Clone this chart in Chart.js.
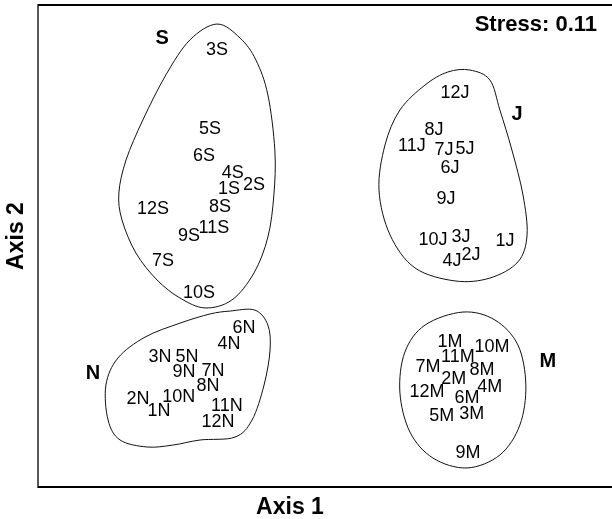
<!DOCTYPE html>
<html>
<head>
<meta charset="utf-8">
<script src="https://cdn.jsdelivr.net/npm/chart.js@4.4.1/dist/chart.umd.min.js"></script>
<style>
  html, body { margin: 0; padding: 0; background: #fff; overflow: hidden; }
  #wrap { width: 612px; height: 519px; }
  canvas { display: block; }
</style>
</head>
<body>
<div id="wrap"><canvas id="nmds" width="612" height="519"></canvas></div>
<script>
// NMDS ordination scores (Axis 1, Axis 2) for each sample
const sNames = ['1S','2S','3S','4S','5S','6S','7S','8S','9S','10S','11S','12S'];
const sAxis1 = [-0.404, -0.300, -0.454, -0.388, -0.483, -0.508, -0.679, -0.442, -0.571, -0.529, -0.467, -0.721];
const sAxis2 = [ 0.237,  0.253,  0.813,  0.303,  0.485,  0.373, -0.062,  0.162,  0.041, -0.195,  0.075,  0.154];

const jNames = ['1J','2J','3J','4J','5J','6J','7J','8J','9J','10J','11J','12J'];
const jAxis1 = [0.746, 0.604, 0.563, 0.525, 0.579, 0.517, 0.492, 0.450, 0.500, 0.446, 0.358, 0.538];
const jAxis2 = [0.021, -0.037, 0.037, -0.062, 0.402, 0.324, 0.398, 0.481, 0.195, 0.025, 0.415, 0.635];

const nNames = ['1N','2N','3N','4N','5N','6N','7N','8N','9N','10N','11N','12N'];
const nAxis1 = [-0.696, -0.783, -0.692, -0.404, -0.579, -0.342, -0.471, -0.492, -0.592, -0.613, -0.413, -0.450];
const nAxis2 = [-0.685, -0.635, -0.461, -0.407, -0.461, -0.340, -0.519, -0.581, -0.523, -0.627, -0.664, -0.730];

const mNames = ['1M','2M','3M','4M','5M','6M','7M','8M','9M','10M','11M','12M'];
const mAxis1 = [0.517, 0.533, 0.608, 0.683, 0.483, 0.588, 0.425, 0.650, 0.592, 0.692, 0.550, 0.421];
const mAxis2 = [-0.398, -0.552, -0.697, -0.585, -0.705, -0.631, -0.502, -0.515, -0.859, -0.419, -0.461, -0.606];

// Group names and where they are printed
const groupNames = ['S', 'J', 'N', 'M'];
const groupAxis1 = [-0.683, 0.796, -0.971, 0.925];
const groupAxis2 = [ 0.859, 0.544, -0.527, -0.481];

// Outline vertices enclosing each group (smoothed when drawn)
const sHull = [[-0.454,0.921],[-0.358,0.863],[-0.292,0.772],[-0.242,0.627],[-0.213,0.398],[-0.217,0.212],
  [-0.242,0.037],[-0.300,-0.112],[-0.392,-0.224],[-0.504,-0.257],[-0.608,-0.216],[-0.704,-0.141],
  [-0.792,-0.029],[-0.850,0.108],[-0.863,0.220],[-0.833,0.357],[-0.763,0.523],[-0.667,0.710],[-0.567,0.855]];
const jHull = [[0.600,0.730],[0.683,0.689],[0.725,0.564],[0.775,0.398],[0.821,0.212],[0.838,0.046],
  [0.800,-0.066],[0.683,-0.133],[0.538,-0.145],[0.371,-0.091],[0.267,0.046],[0.221,0.232],
  [0.246,0.419],[0.308,0.564],[0.413,0.668],[0.508,0.722]];
const nHull = [[-0.400,-0.270],[-0.296,-0.266],[-0.242,-0.328],[-0.233,-0.432],[-0.258,-0.577],[-0.308,-0.722],
  [-0.379,-0.793],[-0.525,-0.805],[-0.638,-0.826],[-0.746,-0.834],[-0.858,-0.805],[-0.908,-0.722],
  [-0.917,-0.577],[-0.867,-0.465],[-0.754,-0.378],[-0.608,-0.320],[-0.483,-0.282]];
const mHull = [[0.571,-0.274],[0.704,-0.307],[0.800,-0.411],[0.833,-0.577],[0.808,-0.743],[0.725,-0.867],
  [0.588,-0.921],[0.446,-0.880],[0.350,-0.772],[0.308,-0.606],[0.329,-0.440],[0.413,-0.328]];

const stressText = 'Stress: 0.11';
const axis1Title = 'Axis 1';
const axis2Title = 'Axis 2';

const FONT = "'Liberation Sans', Arial, Helvetica, sans-serif";

function toPoints(xs, ys) { return xs.map((x, i) => ({ x: x, y: ys[i] })); }

const sampleSets = [
  { names: sNames, xs: sAxis1, ys: sAxis2 },
  { names: jNames, xs: jAxis1, ys: jAxis2 },
  { names: nNames, xs: nAxis1, ys: nAxis2 },
  { names: mNames, xs: mAxis1, ys: mAxis2 }
];

const datasets = sampleSets.map(s => ({
  data: toPoints(s.xs, s.ys),
  names: s.names,
  pointRadius: 0,
  pointHoverRadius: 0
}));
datasets.push({
  data: toPoints(groupAxis1, groupAxis2),
  names: groupNames,
  isGroup: true,
  pointRadius: 0,
  pointHoverRadius: 0
});

// Smooth closed outlines around each group (closed Catmull-Rom spline)
const hullPlugin = {
  id: 'hulls',
  afterDatasetsDraw(chart) {
    const { ctx, scales: { x, y } } = chart;
    ctx.save();
    ctx.strokeStyle = '#111';
    ctx.lineWidth = 1;
    [sHull, jHull, nHull, mHull].forEach(h => {
      const p = h.map(v => [x.getPixelForValue(v[0]), y.getPixelForValue(v[1])]);
      const n = p.length;
      ctx.beginPath();
      ctx.moveTo(p[0][0], p[0][1]);
      for (let i = 0; i < n; i++) {
        const p0 = p[(i - 1 + n) % n], p1 = p[i], p2 = p[(i + 1) % n], p3 = p[(i + 2) % n];
        const c1x = p1[0] + (p2[0] - p0[0]) / 6, c1y = p1[1] + (p2[1] - p0[1]) / 6;
        const c2x = p2[0] - (p3[0] - p1[0]) / 6, c2y = p2[1] - (p3[1] - p1[1]) / 6;
        ctx.bezierCurveTo(c1x, c1y, c2x, c2y, p2[0], p2[1]);
      }
      ctx.closePath();
      ctx.stroke();
    });
    ctx.restore();
  }
};

// Sample names at their ordination positions, the stress value and axis titles
const labelPlugin = {
  id: 'sampleLabels',
  afterDatasetsDraw(chart) {
    const { ctx, chartArea: a } = chart;
    ctx.save();
    ctx.fillStyle = '#000';
    ctx.textAlign = 'center';
    ctx.textBaseline = 'middle';
    chart.data.datasets.forEach((ds, di) => {
      const meta = chart.getDatasetMeta(di);
      ctx.font = ds.isGroup ? 'bold 20px ' + FONT : '18px ' + FONT;
      meta.data.forEach((el, i) => {
        ctx.fillText(ds.names[i], el.x, el.y);
      });
    });
    ctx.font = 'bold 22px ' + FONT;
    ctx.textAlign = 'right';
    ctx.fillText(stressText, a.left + 559, a.top + 20);

    ctx.font = 'bold 23px ' + FONT;
    ctx.textAlign = 'center';
    ctx.fillText(axis1Title, a.left + 252, a.bottom + 21);
    ctx.translate(a.left - 21, (a.top + a.bottom) / 2 - 10);
    ctx.rotate(-Math.PI / 2);
    ctx.fillText(axis2Title, 0, 0);
    ctx.restore();
  }
};

// Box around the plotting region: top, bottom and left sides (the right side lies past the canvas)
const framePlugin = {
  id: 'frame',
  afterDraw(chart) {
    const { ctx, chartArea: a, width } = chart;
    ctx.save();
    ctx.strokeStyle = '#000';
    ctx.lineWidth = 2;
    ctx.beginPath();
    ctx.moveTo(a.left, a.top); ctx.lineTo(width + 4, a.top);
    ctx.moveTo(a.left, a.bottom); ctx.lineTo(width + 4, a.bottom);
    ctx.stroke();
    ctx.lineWidth = 1.3;
    ctx.beginPath();
    ctx.moveTo(a.left, a.top - 1); ctx.lineTo(a.left, a.bottom + 1);
    ctx.stroke();
    ctx.restore();
  }
};

new Chart(document.getElementById('nmds'), {
  type: 'scatter',
  data: { datasets: datasets },
  options: {
    responsive: false,
    animation: false,
    devicePixelRatio: 1,
    layout: { padding: { top: 5, right: 0, left: 0, bottom: 0 } },
    plugins: { legend: { display: false }, tooltip: { enabled: false } },
    scales: {
      x: {
        type: 'linear', min: -1.2, max: 1.192,
        ticks: { display: false },
        grid: { display: false, drawTicks: false },
        border: { display: false },
        afterFit(scale) { scale.height = 32; }
      },
      y: {
        type: 'linear', min: -1, max: 1,
        ticks: { display: false },
        grid: { display: false, drawTicks: false },
        border: { display: false },
        afterFit(scale) { scale.width = 38; }
      }
    }
  },
  plugins: [hullPlugin, labelPlugin, framePlugin]
});
</script>
</body>
</html>
